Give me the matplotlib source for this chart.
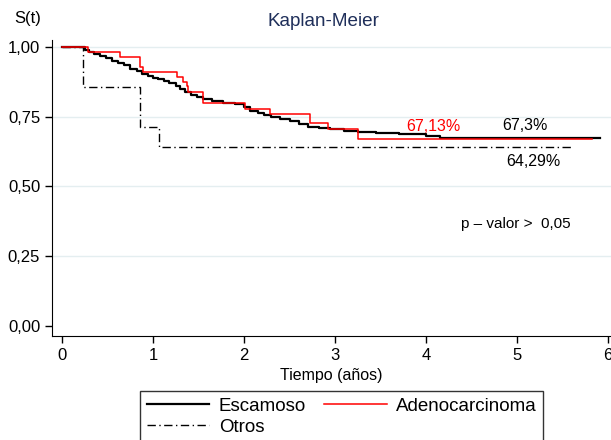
import matplotlib
matplotlib.use("Agg")
import matplotlib.pyplot as plt
from matplotlib.ticker import FuncFormatter

plt.rcParams['font.family'] = ['Liberation Sans', 'DejaVu Sans']

# Escamoso (step times and survival)
esc_t = [0, 0.25, 0.30, 0.35, 0.42, 0.48, 0.55, 0.62, 0.68, 0.75, 0.82, 0.88, 0.95,
         1.00, 1.05, 1.12, 1.18, 1.25, 1.30, 1.35, 1.42, 1.48, 1.55, 1.65, 1.77, 1.90,
         2.00, 2.07, 2.15, 2.22, 2.30, 2.40, 2.50, 2.60, 2.70, 2.82, 2.95, 3.10, 3.25,
         3.45, 3.70, 4.00, 4.15, 5.91]
esc_s = [1.0, 0.990, 0.983, 0.975, 0.968, 0.960, 0.950, 0.942, 0.934, 0.922, 0.913, 0.905, 0.897,
         0.890, 0.884, 0.878, 0.872, 0.860, 0.848, 0.838, 0.828, 0.820, 0.812, 0.806, 0.800, 0.795,
         0.786, 0.772, 0.765, 0.758, 0.748, 0.742, 0.735, 0.725, 0.714, 0.709, 0.706, 0.700, 0.696,
         0.692, 0.688, 0.681, 0.673, 0.673]

# Adenocarcinoma
ade_t = [0, 0.29, 0.64, 0.86, 0.89, 1.26, 1.33, 1.37, 1.39, 1.55, 2.01, 2.29, 2.72, 2.92, 3.25, 5.82]
ade_s = [1.0, 0.983, 0.965, 0.929, 0.911, 0.894, 0.876, 0.860, 0.840, 0.800, 0.778, 0.759, 0.729,
         0.705, 0.6713, 0.6713]

# Otros
otr_t = [0, 0.23, 0.86, 1.07, 5.62]
otr_s = [1.0, 0.857, 0.714, 0.6429, 0.6429]

yticks = [0, 0.25, 0.5, 0.75, 1.0]
xticks = [0, 1, 2, 3, 4, 5, 6]

W, H = 611, 440
fig = plt.figure(figsize=(W / 100, H / 100), dpi=100)
ax = fig.add_axes([52 / W, 1 - 336 / H, (W - 52) / W, (336 - 40) / H])

l_esc, = ax.plot(esc_t, esc_s, drawstyle='steps-post', color='black', lw=1.6, label='Escamoso', zorder=3)
l_ade, = ax.plot(ade_t, ade_s, drawstyle='steps-post', color='#ff0000', lw=1.1, label='Adenocarcinoma', zorder=4)
l_otr, = ax.plot(otr_t, otr_s, drawstyle='steps-post', color='black', lw=1.0, dashes=(6, 2.5, 1, 2.5),
                 label='Otros', zorder=2)

ax.set_xlim(-10 / 91, 6 + 3 / 91)
ax.set_ylim(-10 / 279, (326 - 40) / 279)
ax.set_xticks(xticks)
ax.set_yticks(yticks)
ax.yaxis.set_major_formatter(FuncFormatter(lambda v, p: f"{v:.2f}".replace('.', ',')))
ax.xaxis.set_major_formatter(FuncFormatter(lambda v, p: f"{v:.0f}"))
for y in [0.25, 0.5, 0.75, 1.0]:
    ax.axhline(y, color='#e4eef0', lw=1.0, zorder=0)
ax.spines['top'].set_visible(False)
ax.spines['right'].set_visible(False)
ax.tick_params(direction='out', length=5, width=1, labelsize=12, colors='black')
ax.set_xlabel('Tiempo (años)', fontsize=11.5, labelpad=4)

fig.text(28 / W, 1 - 19 / H, 'S(t)', fontsize=12, ha='center', va='center')
fig.text(323 / W, 1 - 21 / H, 'Kaplan-Meier', fontsize=13.6, ha='center', va='center', color='#1f2f5a')

ax.text(4.077, 0.715, '67,13%', color='#ff0000', fontsize=11.5, ha='center', va='center')
ax.text(5.088, 0.717, '67,3%', color='black', fontsize=11.5, ha='center', va='center')
ax.text(5.176, 0.591, '64,29%', color='black', fontsize=11.5, ha='center', va='center')
ax.text(4.39, 0.365, 'p – valor >  0,05', color='black', fontsize=11, ha='left', va='center')

leg = fig.legend(handles=[l_esc, l_otr, l_ade], labels=['Escamoso', 'Otros', 'Adenocarcinoma'],
                 loc='upper left', bbox_to_anchor=(140 / W, 1 - 391 / H), ncol=2, fontsize=13.5,
                 frameon=True, fancybox=False, edgecolor='black', handlelength=3.35,
                 columnspacing=0.95, borderpad=0.35, labelspacing=0.2, handletextpad=0.5,
                 borderaxespad=0)
leg.get_frame().set_linewidth(1.0)

fig.savefig('out.png', dpi=100)
